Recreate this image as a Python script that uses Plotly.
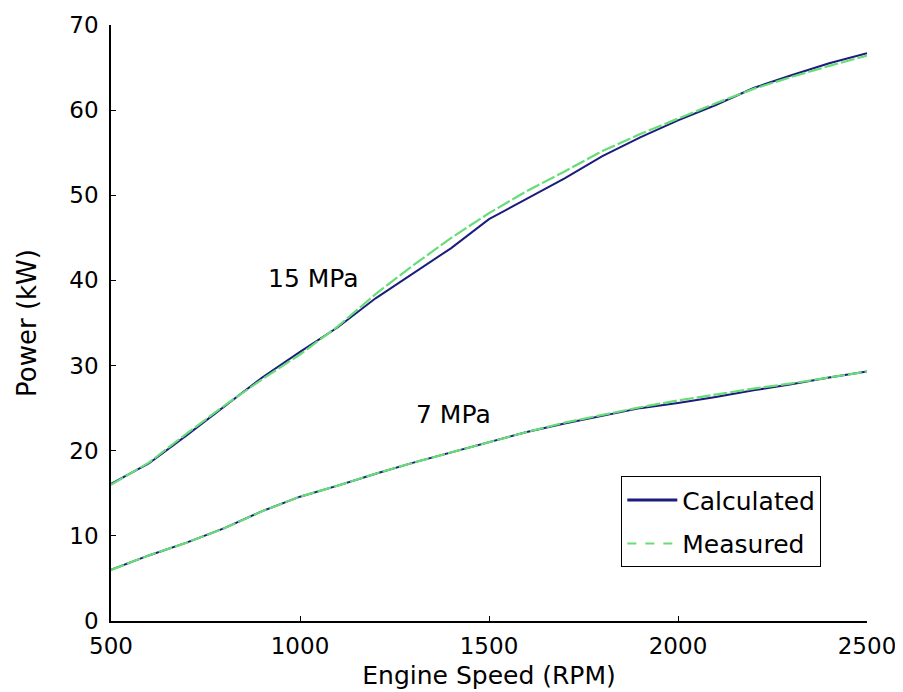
import plotly.graph_objects as go

# engine speed samples (RPM)
rpm = [500, 600, 700, 800, 900, 1000, 1100, 1200, 1300, 1400, 1500,
       1600, 1700, 1800, 1900, 2000, 2100, 2200, 2300, 2400, 2500]

# power (kW) at 15 MPa
calc_15 = [16.1, 18.5, 21.8, 25.2, 28.6, 31.6, 34.5, 37.9, 40.9, 43.8, 47.2,
           49.6, 52.0, 54.6, 56.8, 58.8, 60.6, 62.6, 64.1, 65.5, 66.7]
meas_15 = [16.0, 18.6, 22.0, 25.3, 28.4, 31.3, 34.6, 38.4, 41.8, 45.0, 47.9,
           50.5, 52.8, 55.2, 57.2, 59.0, 60.8, 62.5, 63.9, 65.2, 66.4]

# power (kW) at 7 MPa
calc_7 = [6.0, 7.7, 9.2, 10.9, 12.9, 14.6, 15.9, 17.3, 18.6, 19.8, 21.0,
          22.2, 23.2, 24.1, 25.0, 25.6, 26.3, 27.1, 27.8, 28.6, 29.3]
meas_7 = [6.0, 7.7, 9.2, 10.9, 12.9, 14.6, 15.9, 17.3, 18.6, 19.8, 21.0,
          22.2, 23.3, 24.2, 25.1, 25.9, 26.6, 27.3, 27.9, 28.6, 29.3]

series_names = ["Calculated", "Measured"]
curve_labels = ["15 MPa", "7 MPa"]
label_pos = [(1035, 40.2), (1405, 24.2)]

x_ticks = [500, 1000, 1500, 2000, 2500]
y_ticks = [0, 10, 20, 30, 40, 50, 60, 70]

CALC = "#1c1c7c"
MEAS = "#66dd77"
FONT = "DejaVu Sans"

fig = go.Figure()

for yc in (calc_15, calc_7):
    fig.add_trace(go.Scatter(x=rpm, y=yc, mode="lines",
                             line=dict(color=CALC, width=2), showlegend=False))
for ym in (meas_15, meas_7):
    fig.add_trace(go.Scatter(x=rpm, y=ym, mode="lines",
                             line=dict(color=MEAS, width=2.2, dash="14px,3px"),
                             showlegend=False))

# legend entries
fig.add_trace(go.Scatter(x=[None], y=[None], mode="lines", name=series_names[0],
                         line=dict(color=CALC, width=3), legendgroup="a"))
fig.add_trace(go.Scatter(x=[None], y=[None], mode="lines", name=series_names[1],
                         line=dict(color=MEAS, width=2, dash="9px,9px"), legendgroup="b"))

for txt, (ax, ay) in zip(curve_labels, label_pos):
    fig.add_annotation(x=ax, y=ay, text=txt, showarrow=False,
                       font=dict(family=FONT, size=25, color="black"))

# page body has an 8px margin, so the figure is a bit smaller than the window
fig.update_layout(
    width=895,
    height=684,
    margin=dict(l=103, r=36, t=17, b=71),
    paper_bgcolor="white",
    plot_bgcolor="white",
    font=dict(family=FONT, size=23, color="black"),
    legend=dict(
        x=0.675, y=0.243, xanchor="left", yanchor="top",
        bordercolor="black", borderwidth=1, bgcolor="white",
        tracegroupgap=8, itemwidth=50, font=dict(size=25),
    ),
)
fig.update_xaxes(
    range=[500, 2500], tickvals=x_ticks, showline=True, linecolor="black",
    linewidth=1.5, ticks="inside", ticklen=5, tickcolor="black",
    showgrid=False, zeroline=False, automargin=False, ticklabelstandoff=4,
    title=dict(text="Engine Speed (RPM)", standoff=8, font=dict(size=25)),
)
fig.update_yaxes(
    range=[0, 70], tickvals=y_ticks, showline=True, linecolor="black",
    linewidth=1.5, ticks="inside", ticklen=5, tickcolor="black",
    showgrid=False, zeroline=False, automargin=False, ticklabelstandoff=6,
    title=dict(text="Power (kW)", standoff=25, font=dict(size=26)),
)

fig.write_html("out.html")
